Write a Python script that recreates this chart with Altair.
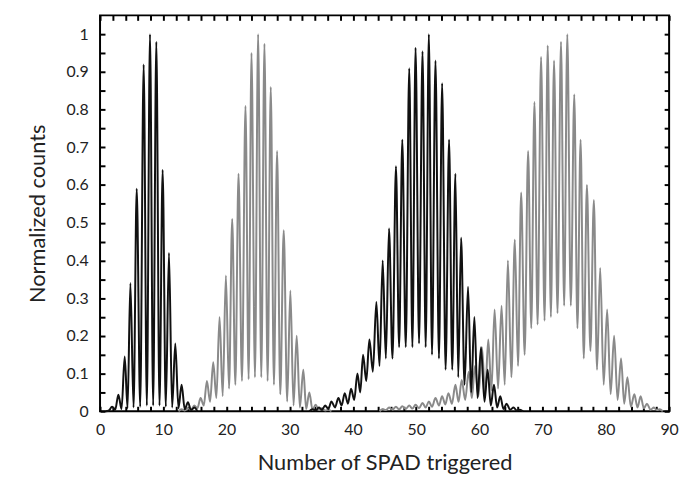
import altair as alt
import pandas as pd

# ---- data (peaks and valleys, interleaved) ----
s1_x = [0.9, 1.4, 1.9, 2.4, 2.9, 3.4, 3.9, 4.35, 4.8, 5.3, 5.8, 6.35, 6.9, 7.4, 7.9, 8.4,
        8.9, 9.4, 9.9, 10.4, 10.9, 11.4, 11.9, 12.4, 12.9, 13.4, 13.9, 14.4, 14.9, 15.4]
s1_y = [0, 0.002, 0.012, 0.004, 0.044, 0.006, 0.145, 0.008, 0.34, 0.01, 0.59, 0.012, 0.92, 0.015, 1.0, 0.015,
        0.98, 0.015, 0.64, 0.012, 0.42, 0.01, 0.18, 0.008, 0.07, 0.005, 0.024, 0.003, 0.01, 0.0]

s2_x = [12.4, 12.9, 13.4, 13.9, 14.4, 14.9, 15.4, 15.9, 16.4, 16.9, 17.4, 17.9, 18.4, 18.9, 19.4, 19.9,
        20.4, 20.9, 21.4, 21.9, 22.45, 23.0, 23.5, 23.95, 24.5, 25.0, 25.5, 26.0, 26.5, 27.0, 27.5, 28.0,
        28.5, 29.05, 29.6, 30.1, 30.6, 31.1, 31.6, 32.15, 32.6, 33.1, 33.6, 34.1, 34.6, 35.1, 35.6, 36.1, 36.6]
s2_y = [0, 0.005, 0.002, 0.008, 0.004, 0.015, 0.008, 0.035, 0.015, 0.08, 0.025, 0.13, 0.035, 0.25, 0.04, 0.36,
        0.06, 0.51, 0.07, 0.63, 0.08, 0.81, 0.085, 0.95, 0.09, 1.0, 0.09, 0.975, 0.08, 0.86, 0.07, 0.69,
        0.045, 0.48, 0.026, 0.32, 0.015, 0.20, 0.01, 0.11, 0.006, 0.05, 0.004, 0.017, 0.003, 0.008, 0.002, 0.004, 0]

s3_x = [33.1, 33.6, 34.1, 34.6, 35.1, 35.6, 36.1, 36.6, 37.15, 37.7, 38.2, 38.7, 39.2, 39.7, 40.2, 40.7,
        41.15, 41.6, 42.1, 42.6, 43.15, 43.7, 44.2, 44.7, 45.2, 45.7, 46.25, 46.8, 47.3, 47.8, 48.35, 48.9,
        49.4, 49.9, 50.45, 51.0, 51.5, 52.0, 52.5, 53.05, 53.6, 54.1, 54.65, 55.2, 55.7, 56.2, 56.65, 57.1,
        57.65, 58.2, 58.7, 59.2, 59.7, 60.25, 60.8, 61.3, 61.8, 62.3, 62.8, 63.3, 63.8, 64.3, 64.85, 65.4,
        65.9, 66.4, 66.9]
s3_y = [0, 0.005, 0.002, 0.01, 0.004, 0.015, 0.006, 0.026, 0.01, 0.035, 0.015, 0.048, 0.02, 0.06, 0.03, 0.10,
        0.05, 0.15, 0.08, 0.19, 0.105, 0.29, 0.12, 0.40, 0.14, 0.485, 0.14, 0.65, 0.17, 0.72, 0.17, 0.91,
        0.17, 0.964, 0.18, 0.955, 0.17, 1.0, 0.15, 0.93, 0.14, 0.87, 0.11, 0.72, 0.11, 0.63, 0.09, 0.46,
        0.07, 0.33, 0.05, 0.25, 0.035, 0.17, 0.025, 0.11, 0.015, 0.07, 0.01, 0.04, 0.006, 0.02, 0.004, 0.01,
        0.002, 0.004, 0]

s4_x = [44.2, 44.7, 45.2, 45.7, 46.25, 46.8, 47.3, 47.8, 48.35, 48.9, 49.4, 49.9, 50.45, 51.0, 51.5, 52.0,
        52.5, 53.05, 53.6, 54.1, 54.6, 55.1, 55.65, 56.2, 56.7, 57.2, 57.75, 58.3, 58.8, 59.3, 59.85, 60.4,
        60.9, 61.4, 61.9, 62.4, 62.95, 63.5, 64.0, 64.5, 65.05, 65.6, 66.1, 66.6, 67.15, 67.7, 68.2, 68.7,
        69.2, 69.75, 70.3, 70.8, 71.3, 71.8, 72.35, 72.9, 73.4, 73.9, 74.45, 75.0, 75.5, 76.0, 76.5, 77.0,
        77.55, 78.1, 78.6, 79.1, 79.65, 80.2, 80.75, 81.3, 81.85, 82.4, 82.9, 83.4, 83.95, 84.5, 85.0, 85.5,
        86.0, 86.5, 87.05, 87.6, 88.05, 88.5, 89.0]
s4_y = [0, 0.006, 0.003, 0.01, 0.004, 0.012, 0.005, 0.013, 0.006, 0.015, 0.007, 0.017, 0.008, 0.022, 0.01, 0.026,
        0.012, 0.035, 0.015, 0.04, 0.018, 0.048, 0.02, 0.07, 0.025, 0.083, 0.03, 0.105, 0.035, 0.12, 0.04, 0.17,
        0.045, 0.19, 0.055, 0.27, 0.06, 0.28, 0.07, 0.40, 0.09, 0.455, 0.12, 0.58, 0.15, 0.69, 0.22, 0.82,
        0.23, 0.94, 0.24, 0.97, 0.25, 0.93, 0.26, 0.98, 0.28, 1.0, 0.28, 0.84, 0.22, 0.72, 0.14, 0.60,
        0.16, 0.56, 0.11, 0.38, 0.07, 0.27, 0.045, 0.20, 0.03, 0.14, 0.02, 0.09, 0.012, 0.045, 0.01, 0.04,
        0.008, 0.02, 0.004, 0.01, 0.003, 0.005, 0]

x_ticks = [0, 2, 4, 6, 8, 10, 12, 14, 16, 18, 20, 22, 24, 26, 28, 30, 32, 34, 36, 38, 40, 42, 44, 46,
           48, 50, 52, 54, 56, 58, 60, 62, 64, 66, 68, 70, 72, 74, 76, 78, 80, 82, 84, 86, 88, 90]
y_ticks = [0, 0.05, 0.1, 0.15, 0.2, 0.25, 0.3, 0.35, 0.4, 0.45, 0.5, 0.55, 0.6, 0.65, 0.7, 0.75,
           0.8, 0.85, 0.9, 0.95, 1.0]

series = [("s1", s1_x, s1_y, "black"), ("s2", s2_x, s2_y, "gray"),
          ("s3", s3_x, s3_y, "black"), ("s4", s4_x, s4_y, "gray")]
rows = []
for name, xs, ys, tone in series:
    for xv, yv in zip(xs, ys):
        rows.append({"x": xv, "y": yv, "series": name, "tone": tone})
df = pd.DataFrame(rows)

FONT = "Lato"
TXT = "#222222"
xscale = alt.Scale(domain=[0, 90], nice=False, zero=False)
yscale = alt.Scale(domain=[0, 1.05], nice=False)

common = dict(values=x_ticks, tickSize=5, offset=-5, domain=False, tickColor="black", tickWidth=2,
              grid=False)
x_bottom = alt.Axis(orient="bottom", labelExpr="datum.value % 10 == 0 ? datum.label : ''",
                    labelPadding=10, labelFontSize=16, labelFont=FONT, labelColor=TXT,
                    title="Number of SPAD triggered", titleFont=FONT, titleFontSize=22,
                    titleFontWeight="normal", titleColor=TXT, titlePadding=16, labelFlush=False, **common)
x_top = alt.Axis(orient="top", labels=False, title=None, **common)

ycommon = dict(values=y_ticks, tickSize=5, offset=-5, domain=False, tickColor="black", tickWidth=2,
               grid=False)
y_left = alt.Axis(orient="left", format="~g",
                  labelExpr="round(datum.value * 100) % 10 == 0 ? datum.label : ''",
                  labelPadding=12, labelFontSize=16, labelFont=FONT, labelColor=TXT,
                  title="Normalized counts", titleFont=FONT, titleFontSize=22,
                  titleFontWeight="normal", titleColor=TXT, titlePadding=17, labelFlush=False, **ycommon)
y_right = alt.Axis(orient="right", labels=False, title=None, **ycommon)

gray = alt.Chart(df).transform_filter(alt.datum.tone == "gray").mark_line(
    interpolate="monotone", color="#8a8a8a", strokeWidth=2
).encode(
    x=alt.X("x:Q", scale=xscale, axis=x_bottom),
    y=alt.Y("y:Q", scale=yscale, axis=y_left),
    detail="series:N",
)
black = alt.Chart(df).transform_filter(alt.datum.tone == "black").mark_line(
    interpolate="monotone", color="#111111", strokeWidth=2
).encode(
    x=alt.X("x:Q", scale=xscale, axis=None),
    y=alt.Y("y:Q", scale=yscale, axis=None),
    detail="series:N",
)
mirror = alt.Chart(df).mark_line(opacity=0).encode(
    x=alt.X("x:Q", scale=xscale, axis=x_top),
    y=alt.Y("y:Q", scale=yscale, axis=y_right),
    detail="series:N",
)

chart = alt.layer(gray, black, mirror).resolve_axis(
    x="independent", y="independent"
).properties(
    width=575, height=400,
    background="white",
    autosize=alt.AutoSizeParams(type="none"),
    padding={"left": 93, "top": 5, "right": 11, "bottom": 64},
).configure_view(stroke="black", strokeWidth=2)

chart.save("out.html", embed_options={"renderer": "svg", "actions": False})
